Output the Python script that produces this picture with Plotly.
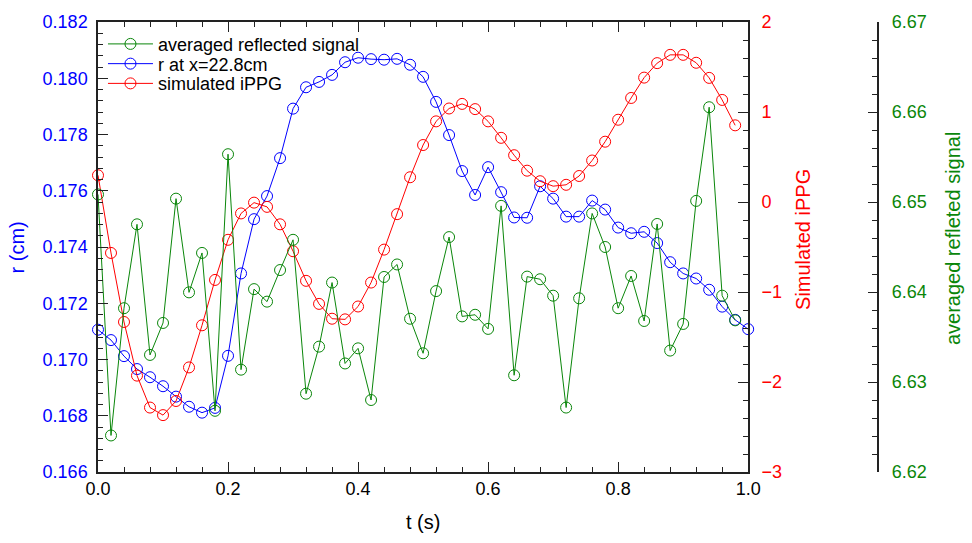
import plotly.graph_objects as go

t = [round(0.02 * i, 2) for i in range(51)]

r_cm = [0.17106, 0.17069, 0.17012, 0.16966, 0.16937, 0.16905, 0.16868, 0.16832, 0.16811, 0.16828,
        0.17013, 0.17306, 0.17499, 0.17581, 0.17716, 0.17892, 0.17968, 0.17987, 0.18012, 0.18057,
        0.18073, 0.18068, 0.18066, 0.18069, 0.18048, 0.18005, 0.17916, 0.17798, 0.17670, 0.17585,
        0.17684, 0.17595, 0.17505, 0.17504, 0.17616, 0.17572, 0.17508, 0.17508, 0.17565, 0.17533,
        0.17469, 0.17449, 0.17454, 0.17414, 0.17346, 0.17306, 0.17288, 0.17248, 0.17188, 0.17141,
        0.17108]

ippg = [0.297, -0.566, -1.333, -1.929, -2.284, -2.368, -2.211, -1.838, -1.370, -0.866,
        -0.420, -0.127, -0.007, -0.054, -0.248, -0.547, -0.876, -1.132, -1.297, -1.304,
        -1.161, -0.895, -0.529, -0.135, 0.275, 0.633, 0.896, 1.039, 1.090, 1.032,
        0.896, 0.713, 0.520, 0.348, 0.231, 0.176, 0.191, 0.289, 0.461, 0.670,
        0.914, 1.156, 1.382, 1.543, 1.635, 1.635, 1.547, 1.379, 1.134, 0.852]

refl = [6.65084, 6.62406, 6.63820, 6.64752, 6.63301, 6.63656, 6.65037, 6.63996, 6.64434, 6.62680,
        6.65531, 6.63137, 6.64032, 6.63893, 6.64244, 6.64580, 6.62870, 6.63393, 6.64105, 6.63206,
        6.63374, 6.62800, 6.64167, 6.64306, 6.63703, 6.63319, 6.64010, 6.64610, 6.63729, 6.63747,
        6.63590, 6.64957, 6.63075, 6.64171, 6.64142, 6.63959, 6.62716, 6.63930, 6.64873, 6.64500,
        6.63820, 6.64178, 6.63678, 6.64756, 6.63349, 6.63645, 6.65012, 6.66053, 6.63959, 6.63685]

BLUE = "#0000FF"
RED = "#FF0000"
GREEN = "#0A860A"
AX = "#222222"
FONT = "Arial, Liberation Sans, sans-serif"

W, H = 972, 543
ML, MR, MT, MB = 98, 20, 16, 71
PW = W - ML - MR
PH = H - MT - MB


def px(xp):
    return (xp - ML) / PW


def py(yp):
    return (H - MB - yp) / PH


fig = go.Figure()

mk = dict(symbol="circle-open", size=11, line=dict(width=1))

fig.add_trace(go.Scatter(x=t[:len(refl)], y=refl, name="averaged reflected signal", mode="lines+markers",
                         line=dict(color=GREEN, width=1), marker=dict(color=GREEN, **mk),
                         yaxis="y3", cliponaxis=False, legend="legend"))
fig.add_trace(go.Scatter(x=t, y=r_cm, name="r at x=22.8cm", mode="lines+markers",
                         line=dict(color=BLUE, width=1), marker=dict(color=BLUE, **mk),
                         yaxis="y", cliponaxis=False, legend="legend2"))
fig.add_trace(go.Scatter(x=t[:len(ippg)], y=ippg, name="simulated iPPG", mode="lines+markers",
                         line=dict(color=RED, width=1), marker=dict(color=RED, **mk),
                         yaxis="y2", cliponaxis=False, legend="legend3"))

xdom_end = px(752)

common = dict(showline=True, linecolor=AX, linewidth=1.5, showgrid=False, zeroline=False,
              ticks="inside", ticklen=10, tickwidth=1, tickcolor=AX)


def leg(yp):
    return dict(x=px(103), y=py(yp), xanchor="left", yanchor="middle", bgcolor="rgba(0,0,0,0)",
                font=dict(size=18, color="black"), itemwidth=45)


fig.update_layout(
    width=W, height=H,
    margin=dict(l=ML, r=MR, t=MT, b=MB),
    paper_bgcolor="white", plot_bgcolor="white",
    font=dict(family=FONT, size=18, color="black"),
    showlegend=True,
    legend=leg(38.5),
    legend2=leg(58.5),
    legend3=leg(78.5),
    xaxis=dict(domain=[0, xdom_end], range=[0, 1.0], dtick=0.2, tickformat=".1f",
               mirror="ticks", tickfont=dict(color="black", size=18),
               minor=dict(dtick=0.04, ticks="inside", ticklen=5, tickcolor=AX),
               **common),
    yaxis=dict(range=[0.166, 0.182], dtick=0.002, tickformat=".3f",
               tickfont=dict(color=BLUE, size=18), ticklabelstandoff=5,
               minor=dict(dtick=0.0004, ticks="inside", ticklen=5, tickcolor=AX),
               **common),
    yaxis2=dict(range=[-3, 2], dtick=1, overlaying="y", side="right", anchor="x",
                tickfont=dict(color=RED, size=18), ticklabelstandoff=8,
                minor=dict(dtick=0.2, ticks="inside", ticklen=5, tickcolor=AX),
                **common),
    yaxis3=dict(range=[6.62, 6.67], dtick=0.01, tickformat=".2f", overlaying="y", side="right",
                anchor="free", position=px(883),
                tickfont=dict(color=GREEN, size=18), ticklabelstandoff=9,
                minor=dict(dtick=0.002, ticks="inside", ticklen=6, tickcolor=AX),
                **common),
    annotations=[
        dict(text="t (s)", x=px(425), y=py(523), xref="paper", yref="paper",
             showarrow=False, font=dict(size=20, color="black"), xanchor="center", yanchor="middle"),
        dict(text="r (cm)", x=px(17), y=py(244), xref="paper", yref="paper", textangle=-90,
             showarrow=False, font=dict(size=20, color=BLUE), xanchor="center", yanchor="middle"),
        dict(text="Simulated iPPG", x=px(807), y=py(236), xref="paper", yref="paper", textangle=-90,
             showarrow=False, font=dict(size=20, color=RED), xanchor="center", yanchor="middle"),
        dict(text="averaged refleted signal", x=px(958), y=py(235), xref="paper", yref="paper",
             textangle=-90, showarrow=False, font=dict(size=20, color=GREEN),
             xanchor="center", yanchor="middle"),
    ],
)

fig.write_html("out.html", config={"displayModeBar": False},
               post_script="document.body.style.margin='0';")
